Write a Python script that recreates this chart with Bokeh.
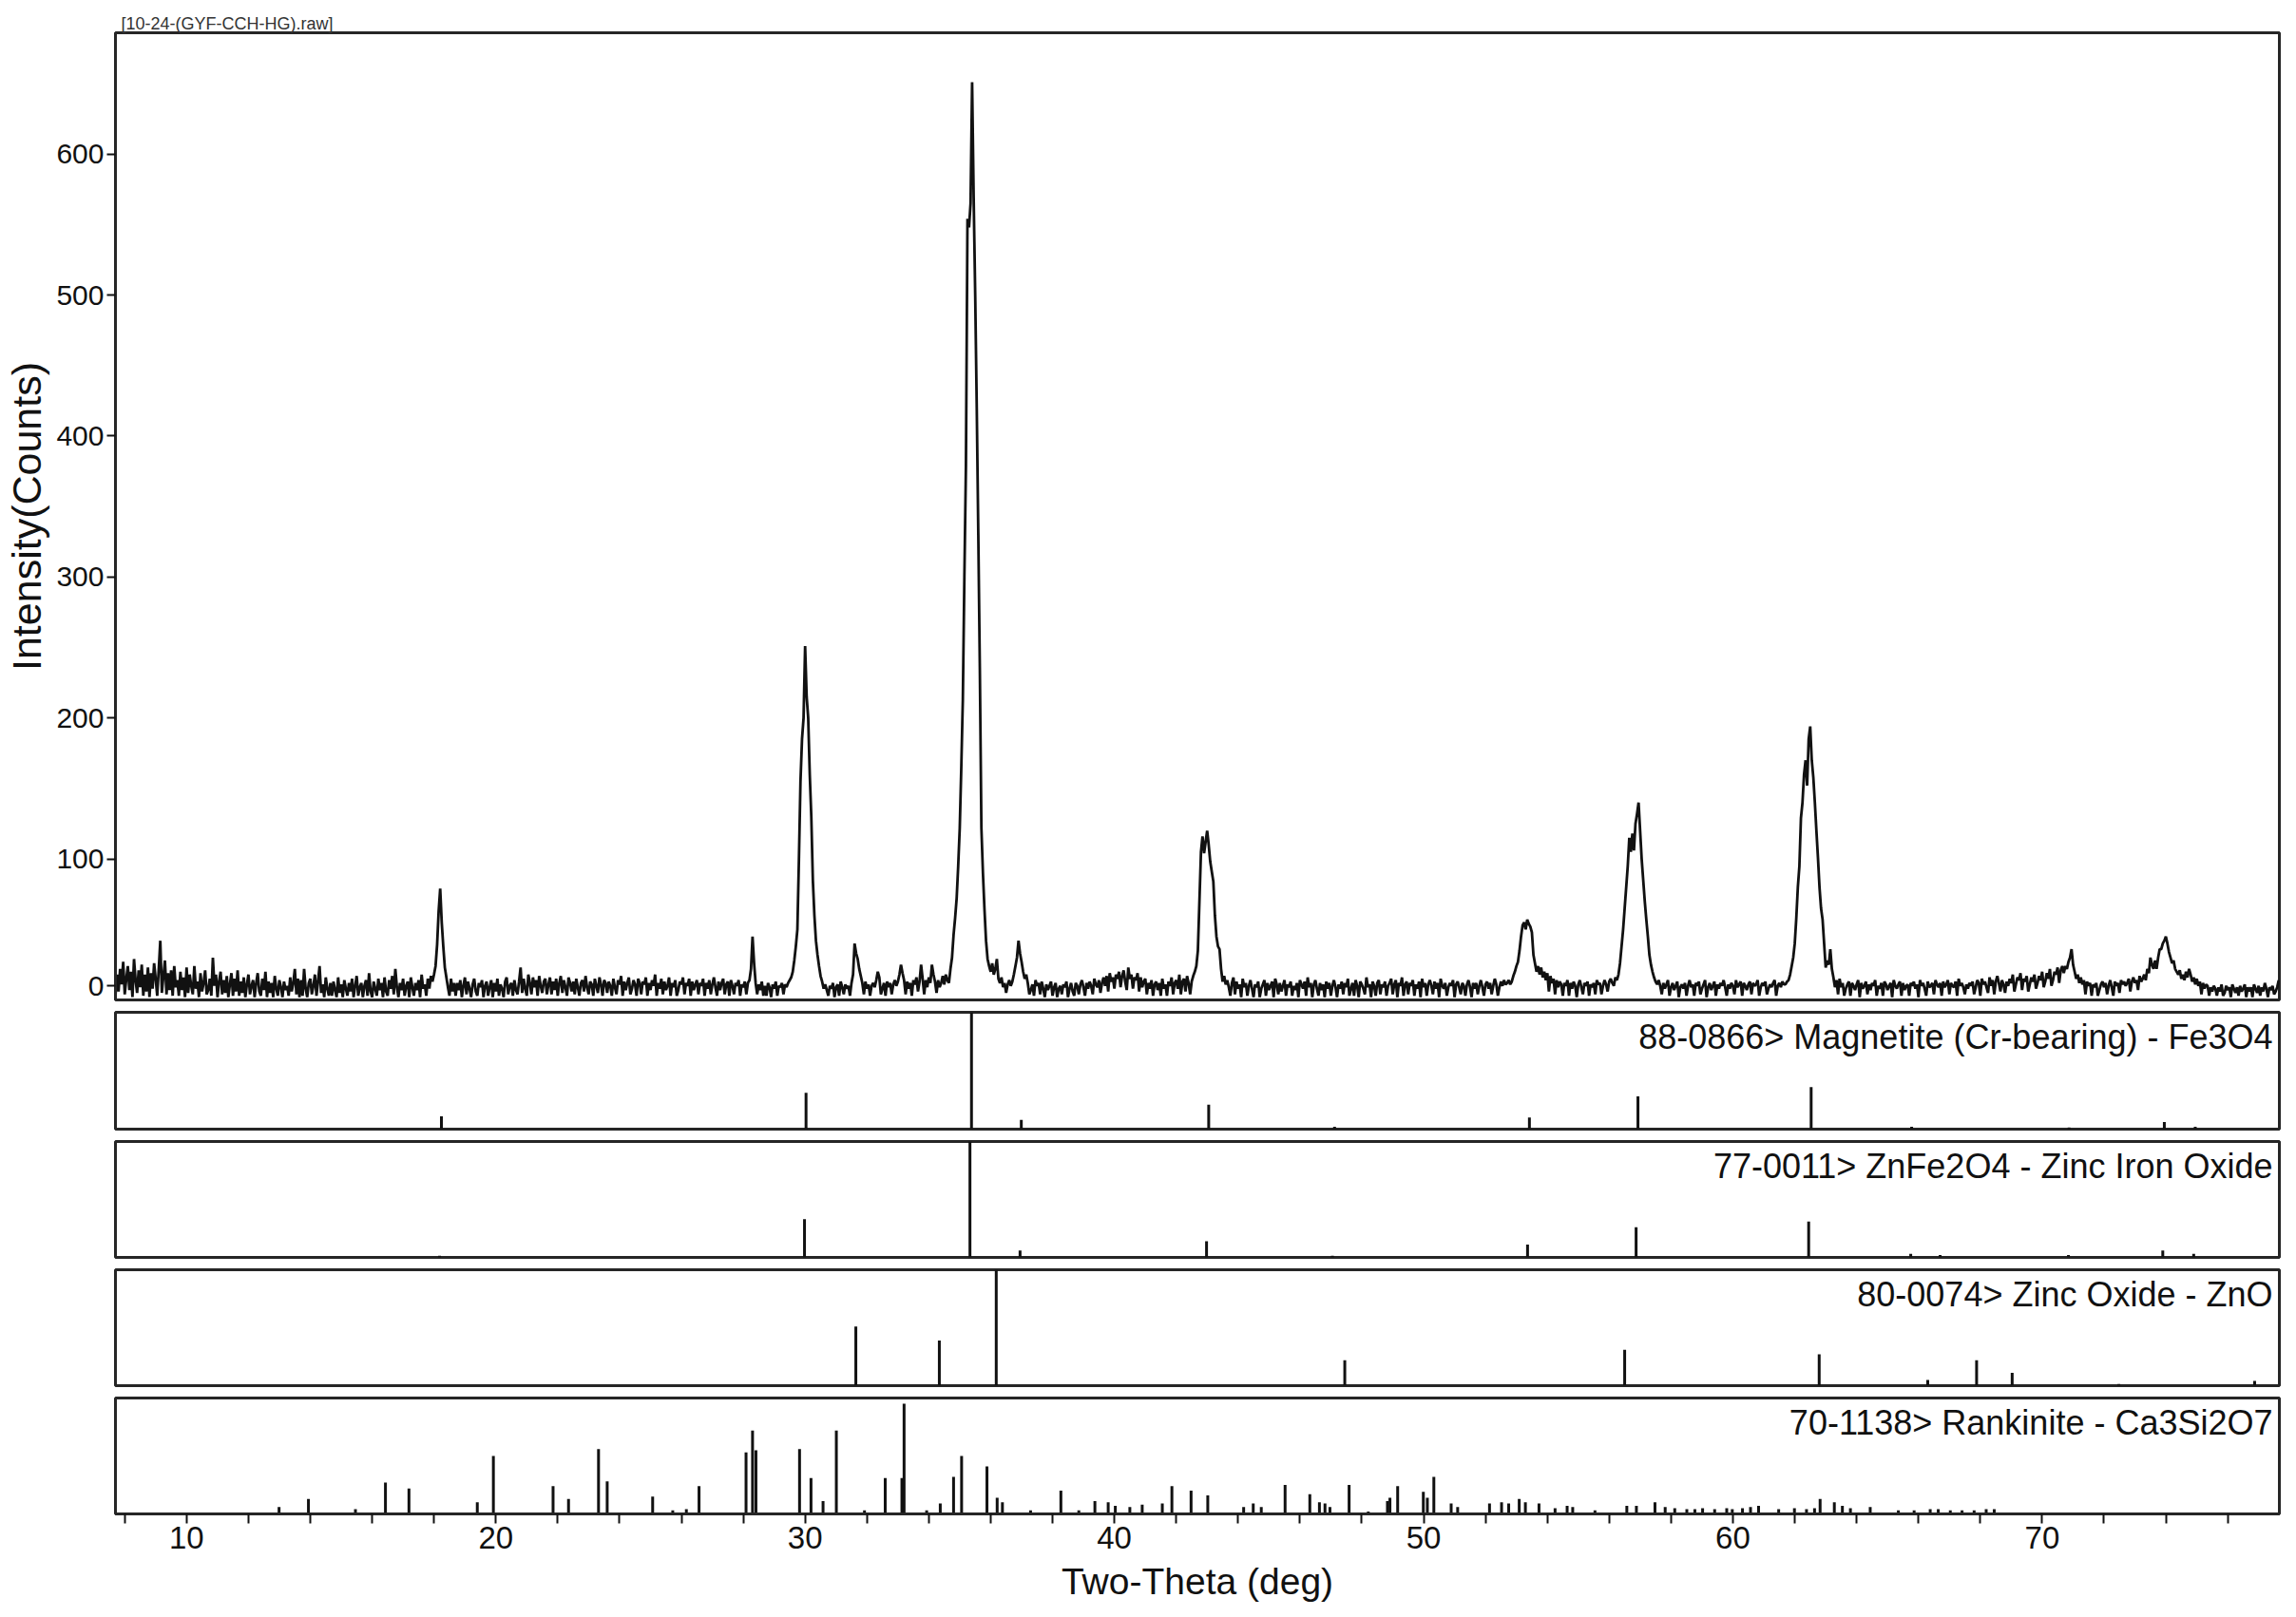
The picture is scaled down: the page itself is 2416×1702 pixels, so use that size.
from bokeh.plotting import figure
from bokeh.layouts import column
from bokeh.models import Label, FixedTicker, Range1d
from bokeh.embed import file_html
from bokeh.resources import INLINE
import numpy as np

# ---------------- data ----------------
X_MIN, X_MAX = 7.70, 77.67
Y_MAX = 686
Y_TICKS = [10, 100, 200, 300, 400, 500, 600]   # the "0" label is drawn raised, as in the original
Y_LABELS = {10: "0"}
X_TICKS = [10, 20, 30, 40, 50, 60, 70]
X_MINOR = [8, 12, 14, 16, 18, 22, 24, 26, 28, 32, 34, 36, 38, 42, 44, 46, 48,
           52, 54, 56, 58, 62, 64, 66, 68, 72, 74, 76]

SCAN_START = 7.70   # deg 2-theta of first step
SCAN_STEP = 0.05    # deg per step
counts = [
    3, 18, 6, 22, 11, 27, 4, 15, 24, 7, 20, 2, 29, 14, 5, 21, 9, 25, 3, 18,
    6, 23, 2, 19, 8, 26, 15, 3, 22, 42, 5, 17, 28, 4, 19, 7, 21, 3, 24, 9,
    14, 3, 20, 7, 16, 2, 23, 5, 18, 10, 4, 24, 8, 13, 2, 19, 6, 12, 21, 4,
    7, 15, 3, 30, 10, 18, 2, 13, 20, 4, 14, 5, 17, 2, 11, 19, 3, 15, 6, 21,
    3, 13, 5, 16, 2, 11, 18, 4, 10, 14, 2, 12, 19, 6, 3, 15, 7, 20, 2, 13,
    5, 12, 2, 17, 8, 3, 14, 9, 2, 13, 7, 10, 3, 16, 6, 12, 22, 4, 15, 2,
    14, 3, 22, 8, 2, 12, 15, 4, 10, 18, 3, 13, 24, 5, 11, 2, 16, 8, 3, 12,
    3, 13, 7, 2, 16, 5, 11, 2, 14, 8, 3, 12, 6, 15, 2, 10, 17, 3, 9, 12,
    2, 10, 14, 3, 19, 6, 2, 13, 8, 3, 15, 7, 12, 2, 16, 6, 3, 14, 8, 17,
    4, 22, 9, 2, 12, 7, 15, 3, 10, 13, 2, 16, 9, 3, 12, 7, 14, 2, 18, 8,
    11, 3, 15, 8, 17, 13, 18, 24, 39, 63, 79, 55, 38, 23, 16, 9, 3, 15, 6, 12,
    3, 12, 7, 14, 2, 10, 16, 4, 13, 8, 2, 11, 15, 6, 3, 12, 9, 14, 2, 10,
    13, 3, 9, 14, 2, 12, 6, 15, 3, 11, 8, 2, 13, 16, 4, 10, 12, 3, 14, 7,
    4, 13, 23, 5, 15, 8, 3, 18, 12, 4, 16, 9, 14, 3, 17, 10, 5, 13, 15, 4,
    11, 16, 4, 13, 7, 15, 3, 12, 17, 5, 14, 9, 3, 16, 12, 6, 13, 4, 15, 9,
    3, 12, 14, 6, 17, 9, 4, 13, 11, 3, 15, 10, 5, 16, 11, 3, 14, 12, 5, 13,
    10, 3, 15, 9, 4, 14, 11, 17, 3, 13, 7, 12, 16, 4, 8, 14, 11, 3, 15, 12,
    4, 13, 11, 16, 3, 12, 7, 14, 10, 18, 3, 12, 8, 15, 4, 13, 7, 10, 16, 3,
    12, 9, 14, 3, 7, 13, 11, 16, 4, 12, 10, 15, 3, 13, 7, 11, 14, 4, 12, 10,
    15, 3, 12, 8, 14, 4, 11, 16, 9, 3, 13, 7, 12, 15, 4, 11, 13, 3, 14, 10,
    4, 12, 10, 14, 3, 11, 9, 13, 4, 12, 14, 22, 45, 26, 12, 4, 11, 7, 13, 3,
    10, 3, 12, 9, 2, 11, 8, 13, 3, 10, 9, 12, 4, 11, 9, 12, 14, 16, 20, 28,
    38, 50, 100, 155, 185, 200, 251, 215, 200, 160, 130, 85, 60, 42, 32, 24, 17, 13, 8, 11,
    7, 3, 10, 8, 12, 2, 9, 11, 3, 13, 9, 4, 11, 8, 10, 3, 12, 18, 40, 33,
    29, 22, 17, 12, 4, 13, 8, 11, 3, 10, 12, 9, 14, 20, 16, 4, 8, 12, 3, 13,
    9, 12, 4, 11, 14, 10, 13, 18, 25, 19, 14, 4, 13, 8, 12, 3, 14, 11, 16, 6,
    13, 25, 15, 4, 14, 9, 16, 12, 25, 18, 13, 5, 14, 9, 12, 17, 11, 18, 14, 12,
    22, 30, 46, 58, 72, 95, 122, 165, 213, 300, 379, 554, 548, 565, 651, 569, 500, 420, 330, 234,
    122, 90, 64, 42, 29, 24, 20, 26, 18, 22, 29, 15, 12, 16, 9, 12, 5, 11, 14, 10,
    13, 18, 24, 30, 42, 33, 27, 20, 15, 18, 12, 4, 7, 11, 3, 14, 10, 12, 4, 13,
    8, 2, 11, 7, 10, 13, 3, 9, 12, 2, 8, 10, 4, 11, 9, 13, 2, 8, 12, 6,
    3, 12, 10, 4, 11, 14, 9, 3, 12, 8, 13, 10, 4, 15, 11, 9, 14, 5, 12, 16,
    10, 17, 6, 19, 13, 16, 8, 18, 15, 20, 9, 17, 21, 13, 7, 23, 15, 18, 8, 16,
    14, 19, 6, 16, 9, 13, 15, 4, 12, 8, 14, 3, 11, 13, 7, 12, 3, 15, 8, 11,
    3, 13, 10, 16, 4, 12, 14, 8, 18, 4, 13, 15, 6, 17, 12, 4, 13, 17, 20, 24,
    35, 70, 105, 116, 104, 112, 120, 110, 98, 91, 84, 60, 45, 38, 36, 22, 13, 17, 11, 14,
    9, 3, 12, 16, 4, 13, 8, 11, 2, 15, 9, 12, 3, 10, 14, 8, 2, 11, 9, 13,
    2, 8, 11, 14, 3, 12, 7, 10, 13, 2, 15, 11, 4, 12, 6, 10, 14, 3, 11, 9,
    13, 3, 10, 7, 12, 2, 14, 11, 8, 13, 3, 16, 9, 12, 2, 11, 14, 8, 3, 12,
    7, 11, 2, 13, 8, 12, 3, 10, 14, 9, 2, 11, 8, 13, 4, 12, 9, 15, 3, 8,
    12, 3, 14, 10, 2, 13, 11, 8, 4, 16, 9, 11, 2, 13, 10, 3, 12, 14, 4, 11,
    9, 13, 3, 10, 12, 15, 4, 11, 14, 2, 12, 10, 16, 3, 11, 13, 4, 12, 10, 14,
    3, 11, 8, 13, 2, 15, 9, 12, 3, 11, 14, 10, 4, 13, 8, 12, 2, 15, 10, 8,
    12, 3, 9, 12, 10, 14, 2, 11, 13, 9, 4, 12, 10, 3, 11, 14, 9, 2, 12, 8,
    12, 4, 10, 14, 9, 3, 11, 13, 8, 12, 4, 10, 15, 11, 3, 9, 13, 10, 14, 11,
    12, 14, 11, 13, 17, 20, 24, 27, 35, 45, 53, 55, 50, 57, 54, 52, 48, 32, 26, 20,
    24, 18, 23, 16, 20, 14, 19, 6, 17, 12, 15, 4, 14, 9, 13, 11, 3, 12, 10, 14,
    3, 12, 8, 13, 10, 2, 11, 14, 9, 4, 12, 10, 13, 3, 11, 9, 12, 4, 14, 11,
    12, 4, 10, 14, 11, 6, 13, 15, 12, 10, 16, 14, 18, 26, 38, 50, 65, 80, 95, 115,
    105, 118, 106, 125, 132, 140, 120, 100, 85, 70, 57, 45, 32, 25, 20, 16, 13, 11, 14, 10,
    4, 12, 8, 11, 14, 3, 9, 12, 7, 10, 13, 2, 9, 11, 8, 12, 3, 10, 14, 9,
    11, 3, 12, 10, 13, 4, 8, 11, 14, 2, 9, 12, 7, 10, 13, 3, 11, 8, 12, 10,
    14, 9, 3, 11, 8, 12, 10, 4, 14, 9, 11, 13, 3, 12, 10, 7, 11, 13, 4, 12,
    10, 11, 14, 3, 9, 12, 10, 13, 4, 8, 11, 9, 12, 14, 3, 10, 12, 9, 13, 11,
    11, 13, 14, 18, 24, 30, 40, 58, 80, 95, 129, 140, 160, 170, 152, 185, 194, 170, 158, 140,
    120, 101, 80, 65, 57, 40, 23, 28, 25, 36, 22, 16, 9, 14, 4, 15, 9, 12, 3, 8,
    11, 13, 3, 12, 10, 7, 11, 14, 2, 12, 8, 10, 13, 4, 11, 7, 12, 10, 14, 3,
    10, 8, 12, 3, 13, 11, 7, 10, 12, 2, 14, 10, 8, 11, 13, 3, 12, 7, 10, 11,
    3, 12, 10, 13, 8, 11, 2, 14, 10, 12, 8, 3, 13, 9, 10, 12, 4, 14, 11, 9,
    12, 3, 13, 9, 11, 14, 4, 12, 10, 9, 13, 3, 15, 10, 12, 9, 4, 11, 8, 12,
    10, 13, 4, 9, 14, 12, 3, 15, 11, 13, 9, 5, 16, 10, 14, 4, 13, 17, 12, 6,
    14, 11, 5, 13, 10, 15, 12, 18, 6, 11, 16, 14, 19, 7, 15, 13, 17, 6, 11, 16,
    13, 18, 8, 12, 17, 14, 20, 9, 13, 19, 15, 22, 10, 14, 20, 18, 23, 12, 21, 24,
    19, 24, 22, 27, 30, 36, 25, 20, 15, 18, 12, 16, 11, 14, 4, 13, 10, 12, 3, 11,
    9, 12, 3, 7, 11, 13, 9, 12, 4, 10, 14, 9, 3, 13, 10, 12, 5, 14, 11, 13,
    10, 12, 15, 6, 13, 16, 12, 14, 7, 17, 13, 15, 18, 14, 22, 19, 30, 25, 22, 28,
    22, 30, 36, 36, 40, 42, 45, 40, 34, 30, 26, 28, 22, 20, 18, 21, 15, 18, 14, 20,
    16, 22, 18, 13, 16, 11, 15, 10, 13, 4, 12, 8, 11, 10, 3, 9, 6, 10, 8, 3,
    9, 6, 11, 3, 5, 10, 7, 9, 2, 11, 8, 5, 9, 3, 10, 6, 8, 11, 2, 9,
    6, 9, 2, 11, 8, 5, 10, 3, 9, 6, 12, 8, 2, 9, 7, 10, 4, 6, 9, 14,
]

# reference patterns: positions (deg) and relative intensities (%)
mag_label = "88-0866> Magnetite (Cr-bearing) - Fe3O4"
mag_pos = [18.24, 30.03, 35.38, 36.99, 43.05, 47.12, 53.42, 56.93, 62.53, 65.78, 70.87, 73.95, 74.95]
mag_int = [11, 31, 100, 8, 21, 2, 10, 28, 36, 2, 1.5, 6, 2]

znf_label = "77-0011> ZnFe2O4 - Zinc Iron Oxide"
znf_pos = [18.18, 29.98, 35.33, 36.95, 42.98, 47.05, 53.36, 56.87, 62.45, 65.75, 66.70, 70.85, 73.90, 74.90]
znf_int = [1.5, 33, 100, 6, 14, 1.5, 11, 26, 31, 3, 2, 2, 6, 3]

zno_label = "80-0074> Zinc Oxide - ZnO"
zno_pos = [31.64, 34.34, 36.18, 47.45, 56.50, 62.79, 66.30, 67.88, 69.03, 72.48, 76.87]
zno_int = [51, 39, 100, 22, 31, 27, 5, 22, 11, 1.5, 4]

ran_label = "70-1138> Rankinite - Ca3Si2O7"
ran_pos = [12.99, 13.94, 15.46, 16.43, 17.19, 19.40, 19.92, 21.85, 22.35, 23.32,
           23.60, 25.07, 25.72, 26.16, 26.57, 28.09, 28.30, 28.41, 29.82, 30.19,
           30.58, 31.01, 31.92, 32.59, 33.13, 33.20, 33.93, 34.37, 34.80, 35.06,
           35.88, 36.21, 36.38, 37.29, 38.27, 38.85, 39.37, 39.80, 40.03, 40.50,
           40.90, 41.55, 41.86, 42.48, 43.02, 44.18, 44.49, 44.75, 45.52, 46.32,
           46.63, 46.81, 46.97, 47.59, 48.21, 48.83, 48.91, 49.16, 49.99, 50.12,
           50.33, 50.89, 51.10, 52.13, 52.52, 52.75, 53.09, 53.29, 53.73, 54.25,
           54.64, 54.82, 55.54, 56.57, 56.88, 57.48, 57.81, 58.12, 58.51, 58.77,
           59.02, 59.41, 59.80, 59.98, 60.31, 60.57, 60.83, 61.48, 61.99, 62.38,
           62.64, 62.82, 63.28, 63.54, 63.80, 64.44, 65.35, 65.86, 66.38, 66.64,
           67.03, 67.41, 67.80, 68.19, 68.45]
ran_int = [6, 13, 4, 27, 22, 10, 50, 24, 13, 56,
           28, 15, 3, 4, 24, 53, 72, 55, 56, 31,
           11, 72, 3, 31, 31, 95, 3, 9, 32, 50,
           41, 14, 10, 3, 20, 3, 11, 10, 7, 6,
           8, 9, 24, 20, 16, 6, 9, 6, 25, 17,
           10, 9, 6, 25, 2, 11, 14, 24, 19, 14,
           32, 9, 6, 9, 10, 9, 13, 10, 9, 5,
           7, 6, 3, 7, 7, 10, 6, 5, 4, 4,
           5, 4, 5, 4, 5, 6, 7, 4, 5, 4,
           5, 13, 10, 7, 5, 6, 3, 3, 4, 4,
           3, 3, 3, 4, 4]

file_title = "[10-24-(GYF-CCH-HG).raw]"
x_title = "Two-Theta (deg)"
y_title = "Intensity(Counts)"

# ---------------- drawing ----------------
FONT = "'Liberation Sans', Arial, sans-serif"
INK = "#111111"
FRAME = "#262626"

two_theta = np.round(SCAN_START + SCAN_STEP * np.arange(len(counts)), 3)
x_range = Range1d(X_MIN, X_MAX)


def make_fig(frame_h, top, bottom, y_end):
    p = figure(frame_width=2277, frame_height=frame_h, x_range=x_range,
               y_range=Range1d(0, y_end), output_backend="svg",
               toolbar_location=None, min_border_left=121, min_border_right=2,
               min_border_top=top, min_border_bottom=bottom)
    p.outline_line_color = FRAME
    p.outline_line_width = 3
    p.xgrid.visible = False
    p.ygrid.visible = False
    p.background_fill_color = "white"
    p.border_fill_color = "white"
    return p


main = make_fig(1018, 34, 2, Y_MAX)
main.line(two_theta, counts, line_color=INK, line_width=2.8)
main.xaxis.visible = False
main.title.text = file_title
main.title.text_font = FONT
main.title.text_font_size = "18px"
main.title.text_font_style = "normal"
main.title.text_color = "#333333"
main.title.align = "left"
main.title.offset = 6
main.title.standoff = 0
ya = main.yaxis[0]
ya.ticker = FixedTicker(ticks=Y_TICKS)
ya.major_label_overrides = Y_LABELS
ya.axis_label = y_title
ya.axis_label_text_font = FONT
ya.axis_label_text_font_size = "43px"
ya.axis_label_text_font_style = "normal"
ya.axis_label_text_color = INK
ya.axis_label_standoff = 4
ya.major_label_text_font = FONT
ya.major_label_text_font_size = "30px"
ya.major_label_text_color = INK
ya.major_label_standoff = 3
ya.major_tick_out = 9
ya.major_tick_in = 0
ya.minor_tick_out = 0
ya.minor_tick_in = 0
ya.major_tick_line_width = 2
ya.major_tick_line_color = INK
ya.axis_line_color = FRAME
ya.axis_line_width = 3

panels = [
    (mag_label, mag_pos, mag_int, 123),
    (znf_label, znf_pos, znf_int, 122),
    (zno_label, zno_pos, zno_int, 122),
    (ran_label, ran_pos, ran_int, 122),
]

figs = [main]
for i, (label, pos, inten, fh) in enumerate(panels):
    last = i == len(panels) - 1
    p = make_fig(fh, 2, 60 if last else 2, 100)
    p.segment(x0=pos, y0=[0] * len(pos), x1=pos, y1=inten,
              line_color=INK, line_width=3)
    p.yaxis.visible = False
    p.add_layout(Label(x=X_MAX, y=100, x_offset=-7, y_offset=-5, text=label,
                       text_align="right", text_baseline="top",
                       text_font=FONT, text_font_size="36px",
                       text_color=INK))
    if last:
        xa = p.xaxis[0]
        xa.ticker = FixedTicker(ticks=X_TICKS, minor_ticks=X_MINOR)
        xa.axis_label = x_title
        xa.axis_label_text_font = FONT
        xa.axis_label_text_font_size = "39px"
        xa.axis_label_text_font_style = "normal"
        xa.axis_label_text_color = INK
        xa.axis_label_standoff = 10
        xa.major_label_text_font = FONT
        xa.major_label_text_font_size = "33px"
        xa.major_label_text_color = INK
        xa.major_label_standoff = 3
        xa.major_tick_out = 10
        xa.major_tick_in = 0
        xa.minor_tick_out = 10
        xa.minor_tick_in = 0
        xa.major_tick_line_width = 2
        xa.minor_tick_line_width = 2
        xa.major_tick_line_color = INK
        xa.minor_tick_line_color = INK
        xa.axis_line_color = FRAME
        xa.axis_line_width = 3
    else:
        p.xaxis.visible = False
    figs.append(p)

layout = column(*figs, spacing=9)
open("out.html", "w").write(file_html(layout, INLINE))
